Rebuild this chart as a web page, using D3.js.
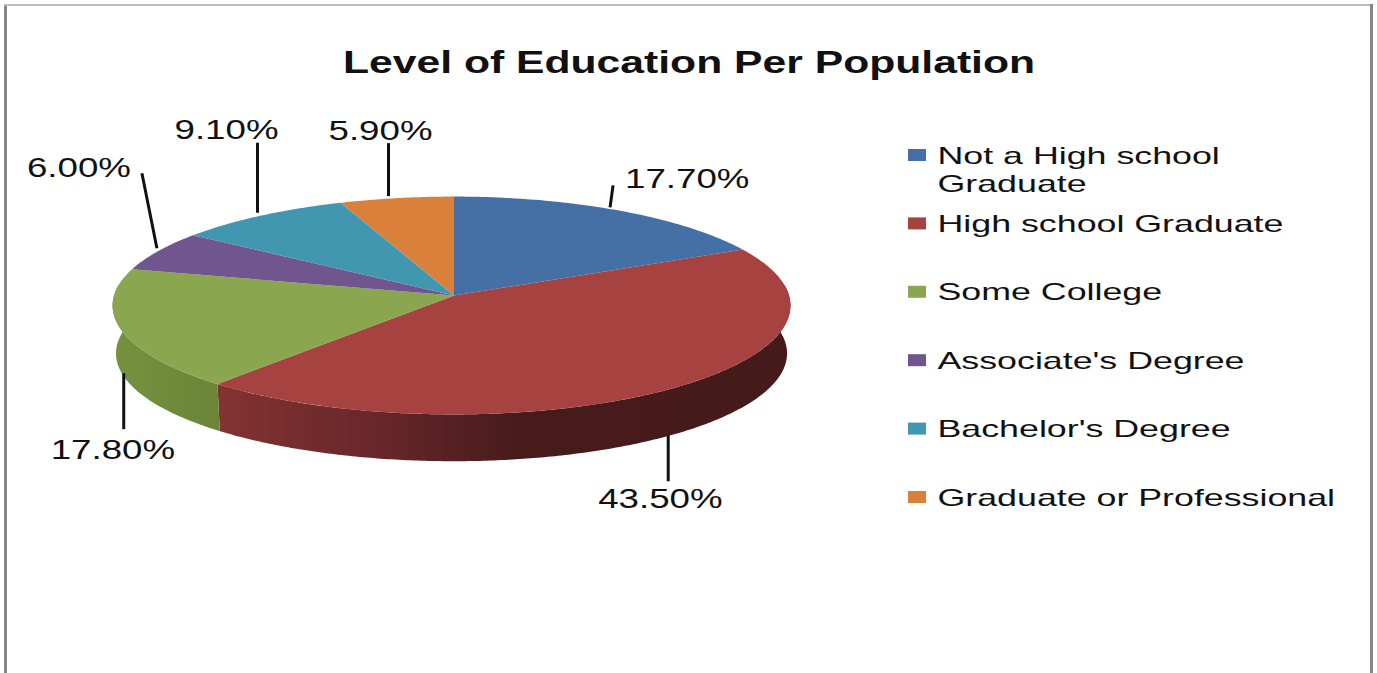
<!DOCTYPE html>
<html>
<head>
<meta charset="utf-8">
<style>
  body { margin: 0; background: #fff; }
  text { font-family: "Liberation Sans", Arial, sans-serif; fill: #111; }
</style>
<script src="https://cdn.jsdelivr.net/npm/d3@7"></script>
</head>
<body>
<svg width="1377" height="673"></svg>
<script>
var categories = ["Not a High school Graduate", "High school Graduate", "Some College", "Associate's Degree", "Bachelor's Degree", "Graduate or Professional"];
var values = [17.7, 43.5, 17.8, 6.0, 9.1, 5.9];
var colors = ["#4570a6", "#a6423f", "#8aa64e", "#71558f", "#4196b0", "#d9813b"];
var titleText = "Level of Education Per Population";

var svgWidth = 1377, svgHeight = 673;
var cx = 454, cy = 295.5, ry = 108;
var tilt = 0.0917;   // near edge of the pie looks bigger than the far edge
var depth = 48;

var svg = d3.select("svg");

// frame, the bottom edge runs off the picture
svg.append("path").attr("d", "M5.5 673V5.5").attr("stroke", "#868686").attr("stroke-width", 3).attr("fill", "none");
svg.append("path").attr("d", "M4 5H1373").attr("stroke", "#bcbcbc").attr("stroke-width", 2).attr("fill", "none");
svg.append("path").attr("d", "M1371.5 4V673").attr("stroke", "#868686").attr("stroke-width", 3).attr("fill", "none");

function stretched(sel, sx) {
    // the picture is wider than the font, so stretch every text by the same amount
    sel.each(function() {
        var t = d3.select(this);
        t.attr("textLength", this.getComputedTextLength() * sx).attr("lengthAdjust", "spacingAndGlyphs");
    });
    return sel;
}

svg.append("text")
    .attr("x", 343).attr("y", 73)
    .attr("font-size", 32).attr("font-weight", "bold")
    .text(titleText)
    .call(stretched, 1.333);

// the pie sits a little left of its own centre point in the picture
var xScale = d3.scaleLinear().domain([-1, 0, 1]).range([114, cx, 789]);
var yScale = d3.scaleLinear().domain([-1, 1]).range([cy + ry, cy - ry]);
var colorScale = d3.scaleOrdinal().domain(categories).range(colors);

var pie = d3.pie().sort(null).value(function(d) { return d; });
var slices = pie(values);

function rim(a, drop, shrink) {
    var u = Math.sin(a), v = Math.cos(a), w = 1 + tilt * v;
    return [xScale(u * shrink / w), yScale(v * shrink / w) + drop];
}

function angles(a0, a1) {
    return d3.range(a0, a1, 0.01).concat([a1]);
}

var line = d3.line();
var defs = svg.append("defs");

function wallGradient(id, stops) {
    var g = defs.append("linearGradient").attr("id", id)
        .attr("gradientUnits", "userSpaceOnUse")
        .attr("x1", xScale(-1)).attr("x2", xScale(1)).attr("y1", 0).attr("y2", 0);
    stops.forEach(function(s) {
        g.append("stop").attr("offset", s[0]).attr("stop-color", s[1]);
    });
}
wallGradient("wall1", [[0.15, "#843331"], [0.4, "#66262a"], [0.6, "#471b1a"], [1, "#451a1a"]]);
wallGradient("wall2", [[0, "#76923f"], [0.16, "#6b8439"]]);

// side wall, only the front half of the pie shows one
var frontStart = Math.PI / 2 - 0.1, frontEnd = 3 * Math.PI / 2 + 0.1;
svg.selectAll(".wall")
    .data(slices.filter(function(d) { return d.endAngle > frontStart && d.startAngle < frontEnd; }))
    .enter()
    .append("path")
    .attr("class", "wall")
    .attr("fill", function(d) { return "url(#wall" + d.index + ")"; })
    .attr("d", function(d) {
        var a = angles(Math.max(d.startAngle, frontStart), Math.min(d.endAngle, frontEnd));
        var top = a.map(function(t) { return rim(t, 0, 1); });
        var bottom = a.map(function(t) { return rim(t, depth, 0.99); }).reverse();
        return line(top.concat(bottom)) + "Z";
    });

// top face
svg.selectAll(".slice")
    .data(slices)
    .enter()
    .append("path")
    .attr("class", "slice")
    .attr("fill", function(d) { return colorScale(categories[d.index]); })
    .attr("d", function(d) {
        var pts = angles(d.startAngle, d.endAngle).map(function(t) { return rim(t, 0, 1); });
        return line([[xScale(0), yScale(0)]].concat(pts)) + "Z";
    });

// leader lines and value labels: nudge off the rim, leader vector, label offset from the leader end
var labelLayout = [
    { nudge: [-8, -3], leader: [3, -22], label: [12, 3] },
    { nudge: [-8, 0], leader: [0, 46], label: [-70, 26.5] },
    { nudge: [3, -4], leader: [0, 56], label: [-73, 30] },
    { nudge: [-1, -3], leader: [-15, -75], label: [-115, 4] },
    { nudge: [-3, -3], leader: [0, -70], label: [-83, -4] },
    { nudge: [-8, -2], leader: [0, -53], label: [-60, -3] }
];

slices.forEach(function(d, i) {
    var mid = (d.startAngle + d.endAngle) / 2;
    var front = Math.cos(mid) < 0;
    var p = rim(mid, front ? depth : 0, 1);
    var l = labelLayout[i];
    var x1 = p[0] + l.nudge[0], y1 = p[1] + l.nudge[1];
    var x2 = x1 + l.leader[0], y2 = y1 + l.leader[1];
    svg.append("line")
        .attr("x1", x1).attr("y1", y1).attr("x2", x2).attr("y2", y2)
        .attr("stroke", "#111").attr("stroke-width", 3);
    svg.append("text")
        .attr("x", x2 + l.label[0]).attr("y", y2 + l.label[1])
        .attr("font-size", 28)
        .text(d3.format(".2f")(d.data) + "%")
        .call(stretched, 1.31);
});

// legend
var legendY = d3.scaleLinear().domain([0, categories.length - 1]).range([155, 497]);
var legend = svg.selectAll(".legend")
    .data(categories)
    .enter()
    .append("g")
    .attr("class", "legend")
    .attr("transform", function(d, i) { return "translate(908," + legendY(i) + ")"; });

legend.append("rect")
    .attr("y", -6).attr("width", 18).attr("height", 12)
    .attr("fill", function(d) { return colorScale(d); });

legend.each(function(d) {
    // the longest first entry wraps after "school"
    var parts = d.indexOf("Not a") === 0 ? [d.slice(0, 17), d.slice(18)] : [d];
    var g = d3.select(this);
    parts.forEach(function(p, j) {
        g.append("text")
            .attr("x", 29.5).attr("y", 8.5 + j * 28)
            .attr("font-size", 24)
            .text(p)
            .call(stretched, 1.49);
    });
});
</script>
</body>
</html>
